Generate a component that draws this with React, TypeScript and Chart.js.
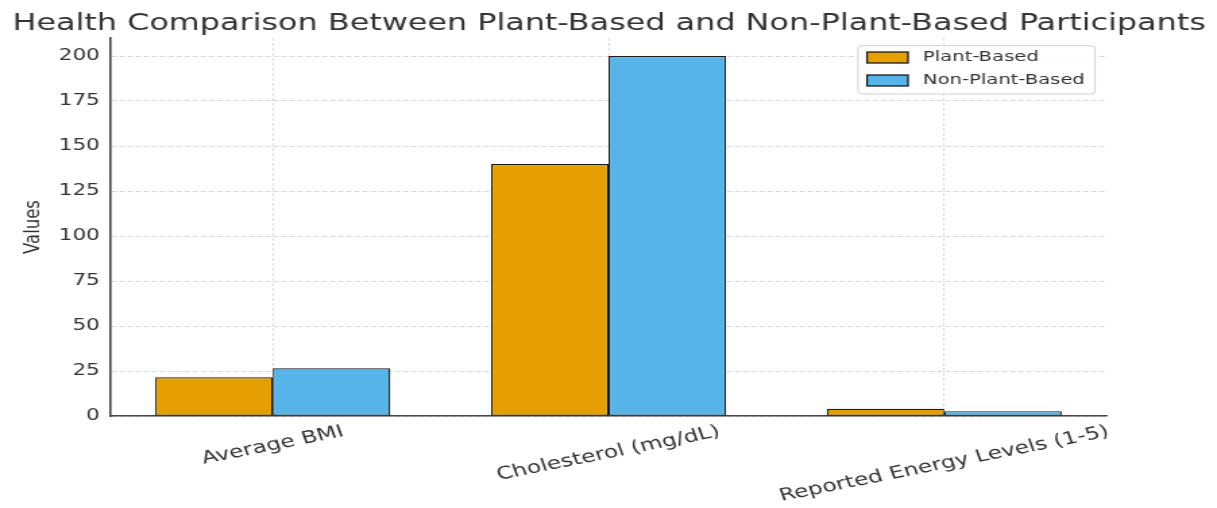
import React, { useEffect, useRef } from 'react';
import { Chart, registerables } from 'chart.js';

Chart.register(...registerables);

// ---- Data ----
const categories = ['Average BMI', 'Cholesterol (mg/dL)', 'Reported Energy Levels (1-5)'];
const seriesLabels = ['Plant-Based', 'Non-Plant-Based'];
const plantBased = [21.5, 140, 4.0];
const nonPlantBased = [26.5, 200, 2.7];
const yTicks = [0, 25, 50, 75, 100, 125, 150, 175, 200];
const chartTitle = 'Health Comparison Between Plant-Based and Non-Plant-Based Participants';
const yAxisTitle = 'Values';

// ---- Layout / style ----
const OUT_W = 1217;
const OUT_H = 508;
const IN_W = 902;
const STRETCH = OUT_W / IN_W;
const FONT = "'DejaVu Sans', 'Noto Sans', sans-serif";
const TEXT = '#333333';
const COLORS = ['#E69F00', '#56B4E9'];
const EDGE = '#1a1a1a';
const GRID = '#cfcfcf';
const TITLE_WIDTH_OUT = 1194;

const titlePlugin = {
  id: 'figTitle',
  afterDraw(chart: any) {
    const ctx = chart.ctx;
    ctx.save();
    ctx.font = `24px ${FONT}`;
    const w = ctx.measureText(chartTitle).width;
    const size = (24 * (TITLE_WIDTH_OUT / STRETCH)) / w;
    ctx.font = `${size.toFixed(2)}px ${FONT}`;
    ctx.fillStyle = TEXT;
    ctx.textAlign = 'center';
    ctx.textBaseline = 'alphabetic';
    ctx.fillText(chartTitle, chart.width / 2 + 0.5, 29.5);
    ctx.restore();
  },
};

const xLabelPlugin = {
  id: 'xLabelPlugin',
  afterDraw(chart: any) {
    const xs = chart.scales.x;
    const ctx = chart.ctx;
    const ang = (15 * Math.PI) / 180;
    ctx.save();
    ctx.font = `17.3px ${FONT}`;
    ctx.fillStyle = TEXT;
    ctx.textAlign = 'center';
    ctx.textBaseline = 'middle';
    categories.forEach((lab, i) => {
      const x = xs.getPixelForValue(i);
      const w = ctx.measureText(lab).width;
      const y = xs.top + 15.5 + (w * Math.sin(ang)) / 2;
      ctx.save();
      ctx.translate(x, y);
      ctx.rotate(-ang);
      ctx.fillText(lab, 0, 0);
      ctx.restore();
    });
    ctx.restore();
  },
};

const legendPlugin = {
  id: 'boxLegend',
  afterDraw(chart: any) {
    const ctx = chart.ctx;
    const bx = 635.9, by = 45.7, bw = 175.7, bh = 48.3;
    ctx.save();
    ctx.beginPath();
    if ((ctx as any).roundRect) (ctx as any).roundRect(bx, by, bw, bh, 3);
    else ctx.rect(bx, by, bw, bh);
    ctx.fillStyle = 'rgba(255,255,255,0.85)';
    ctx.fill();
    ctx.lineWidth = 1;
    ctx.strokeStyle = '#d0d0d0';
    ctx.stroke();
    chart.data.datasets.forEach((ds: any, i: number) => {
      const sy = 52 + i * 23;
      ctx.fillStyle = ds.backgroundColor;
      ctx.fillRect(642.6, sy, 30.4, 11);
      ctx.lineWidth = 1.3;
      ctx.strokeStyle = EDGE;
      ctx.strokeRect(642.6, sy, 30.4, 11);
      ctx.fillStyle = TEXT;
      ctx.font = `14.5px ${FONT}`;
      ctx.textAlign = 'left';
      ctx.textBaseline = 'middle';
      ctx.fillText(ds.label, 684.1, sy + 5.5);
    });
    ctx.restore();
  },
};

export default function App() {
  const canvasRef = useRef<HTMLCanvasElement | null>(null);

  useEffect(() => {
    document.body.style.margin = '0';
    document.body.style.overflow = 'hidden';
    const canvas = canvasRef.current;
    if (!canvas) return;
    const chart = new Chart(canvas, {
      type: 'bar',
      data: {
        datasets: [
          {
            label: seriesLabels[0],
            data: plantBased.map((v, i) => ({ x: i, y: v })),
            backgroundColor: COLORS[0],
            borderColor: EDGE,
            borderWidth: 1.2,
            borderSkipped: false,
          },
          {
            label: seriesLabels[1],
            data: nonPlantBased.map((v, i) => ({ x: i, y: v })),
            backgroundColor: COLORS[1],
            borderColor: EDGE,
            borderWidth: 1.2,
            borderSkipped: false,
          },
        ],
      },
      options: {
        animation: false,
        responsive: true,
        maintainAspectRatio: false,
        layout: { padding: { left: 0, right: IN_W - 820.5, top: 38, bottom: 0 } },
        datasets: { bar: { categoryPercentage: 0.7, barPercentage: 1.0 } },
        plugins: {
          legend: { display: false },
          tooltip: { enabled: false },
          title: { display: false },
        },
        scales: {
          x: {
            type: 'linear',
            min: -0.485,
            max: 2.485,
            offset: false,
            afterBuildTicks: (s: any) => {
              s.ticks = categories.map((_, i) => ({ value: i }));
            },
            afterFit: (s: any) => {
              s.height = OUT_H - 416;
            },
            ticks: { display: false },
            grid: { color: GRID, lineWidth: 0.8, drawTicks: false, offset: false },
            border: { display: true, color: '#444', width: 1.6, dash: [3, 2] },
          },
          y: {
            min: 0,
            max: 210,
            afterBuildTicks: (s: any) => {
              s.ticks = yTicks.map((v) => ({ value: v }));
            },
            afterFit: (s: any) => {
              s.width = 81.5;
            },
            ticks: {
              color: TEXT,
              padding: 7.5,
              font: { family: FONT, size: 16 },
            },
            grid: { color: GRID, lineWidth: 0.8, drawTicks: false },
            border: { display: true, color: '#444', width: 1.6, dash: [4, 2] },
            title: {
              display: true,
              text: yAxisTitle,
              color: TEXT,
              font: { family: FONT, size: 16.5 },
              padding: { top: 15.3, bottom: 0 },
            },
          },
        },
      } as any,
      plugins: [titlePlugin, xLabelPlugin, legendPlugin],
    });
    return () => chart.destroy();
  }, []);

  return (
    <div
      style={{
        position: 'absolute',
        left: 0,
        top: 0,
        width: IN_W,
        height: OUT_H,
        transform: `scaleX(${STRETCH})`,
        transformOrigin: '0 0',
      }}
    >
      <canvas ref={canvasRef} />
    </div>
  );
}
